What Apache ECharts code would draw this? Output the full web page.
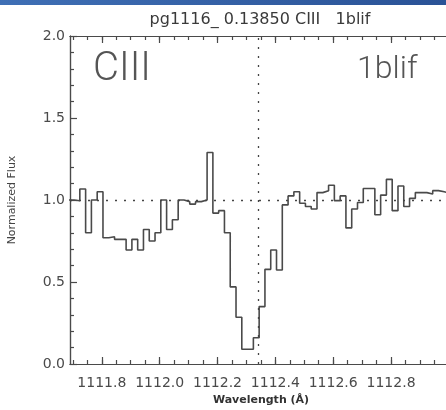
<!DOCTYPE html>
<html>
<head>
<meta charset="utf-8">
<script src="https://cdn.jsdelivr.net/npm/echarts@6/dist/echarts.min.js"></script>
<style>html,body{margin:0;padding:0;background:#fff}#c{width:446px;height:410px}</style>
</head>
<body>
<div id="c"></div>
<script>
// Bin left edges (Å) and normalized flux per bin
const binEdges = [1111.684,1111.704,1111.724,1111.744,1111.764,1111.784,1111.804,1111.824,1111.844,1111.864,
  1111.884,1111.904,1111.924,1111.944,1111.964,1111.984,1112.004,1112.024,1112.044,1112.064,
  1112.084,1112.104,1112.124,1112.144,1112.164,1112.184,1112.204,1112.224,1112.244,1112.264,
  1112.284,1112.304,1112.324,1112.344,1112.364,1112.384,1112.404,1112.424,1112.444,1112.464,
  1112.484,1112.504,1112.524,1112.544,1112.564,1112.584,1112.604,1112.624,1112.644,1112.664,
  1112.684,1112.704,1112.724,1112.744,1112.764,1112.784,1112.804,1112.824,1112.844,1112.864,
  1112.884,1112.904,1112.924,1112.944,1112.964,1112.984,1113.004];
const flux = [1.0,0.995,1.067,0.80,1.0,1.05,0.77,0.776,0.76,0.76,
  0.695,0.76,0.695,0.82,0.75,0.80,1.0,0.82,0.88,1.0,
  0.99,0.975,0.99,1.0,1.29,0.92,0.935,0.80,0.47,0.285,
  0.09,0.09,0.16,0.35,0.577,0.695,0.573,0.97,1.025,1.05,
  0.98,0.96,0.945,1.045,1.057,1.09,0.996,1.025,0.83,0.945,
  0.985,1.07,1.07,0.91,1.03,1.126,0.935,1.085,0.96,1.01,
  1.045,1.045,1.037,1.057,1.05,1.04];
const xMajorTicks = [1111.8,1112.0,1112.2,1112.4,1112.6,1112.8];
const xMinorTicks = [1111.70,1111.75,1111.80,1111.85,1111.90,1111.95,1112.00,1112.05,1112.10,1112.15,
  1112.20,1112.25,1112.30,1112.35,1112.40,1112.45,1112.50,1112.55,1112.60,1112.65,
  1112.70,1112.75,1112.80,1112.85,1112.90,1112.95];
const yMajorTicks = [0.0,0.5,1.0,1.5,2.0];
const yMinorTicks = [0.1,0.2,0.3,0.4,0.6,0.7,0.8,0.9,1.1,1.2,1.3,1.4,1.6,1.7,1.8,1.9];
const continuum = 1.0;
const lineCenter = 1112.34;
const xMin = 1111.69, xMax = 1112.99;
const titleText = 'pg1116_ 0.13850 CIII   1blif';

const stepData = flux.map((v, i) => [binEdges[i], v]);
stepData.push([binEdges[flux.length], flux[flux.length - 1]]);

const axisColor = '#4a4a4a';
function xAx(pos, ticks, len, labels) {
  return {
    type: 'value', position: pos, min: xMin, max: xMax, gridIndex: 0,
    axisLine: { show: true, onZero: false, lineStyle: { color: axisColor, width: 1.2 } },
    axisTick: { show: true, inside: true, length: len, customValues: ticks, lineStyle: { color: axisColor, width: 1.2 } },
    axisLabel: labels ? { show: true, customValues: ticks, margin: 12, fontSize: 14, color: '#4a4a4a',
      fontFamily: 'DejaVu Sans', formatter: v => v.toFixed(1) } : { show: false },
    splitLine: { show: false }
  };
}
function yAx(pos, ticks, len, labels) {
  return {
    type: 'value', position: pos, min: 0, max: 2, gridIndex: 0,
    axisLine: { show: true, onZero: false, lineStyle: { color: axisColor, width: 1.2 } },
    axisTick: { show: true, inside: true, length: len, customValues: ticks, lineStyle: { color: axisColor, width: 1.2 } },
    axisLabel: labels ? { show: true, customValues: ticks, margin: 5, fontSize: 14, color: '#4a4a4a',
      fontFamily: 'DejaVu Sans', formatter: v => v.toFixed(1) } : { show: false },
    splitLine: { show: false }
  };
}

const chart = echarts.init(document.getElementById('c'), null, { renderer: 'canvas' });
chart.setOption({
  animation: false,
  backgroundColor: '#fff',
  grid: { left: 70, right: -9, top: 36, bottom: 46, containLabel: false },
  xAxis: [
    xAx('bottom', xMajorTicks, 7, true),
    xAx('bottom', xMinorTicks, 4, false),
    xAx('top', xMajorTicks, 7, false),
    xAx('top', xMinorTicks, 4, false)
  ],
  yAxis: [
    yAx('left', yMajorTicks, 7, true),
    yAx('left', yMinorTicks, 4, false)
  ],
  series: [{
    type: 'line', xAxisIndex: 0, yAxisIndex: 0,
    data: stepData, step: 'end', showSymbol: false, symbol: 'none',
    lineStyle: { color: '#4a4a4a', width: 1.6 },
    clip: true,
    markLine: {
      silent: true, symbol: 'none', label: { show: false },
      lineStyle: { color: '#444', type: [2, 7], width: 1.3 },
      data: [{ yAxis: continuum }, { xAxis: lineCenter }]
    }
  }],
  graphic: [
    { type: 'rect', shape: { x: 0, y: 0, width: 446, height: 5 },
      style: { fill: new echarts.graphic.LinearGradient(0, 0, 1, 0, [{ offset: 0, color: '#3f6fb5' }, { offset: 1, color: '#2a5296' }]) } },
    { type: 'text', x: 260, y: 20, style: { text: titleText, fontSize: 16, fill: '#3a3a3a', fontFamily: 'DejaVu Sans', align: 'center', verticalAlign: 'middle' } },
    { type: 'text', style: { text: 'CIII', x: 93, y: 50, fontSize: 40, fill: '#555', fontFamily: 'Roboto', fontWeight: 300 } },
    { type: 'text', style: { text: '1blif', x: 357, y: 54, fontSize: 32, fill: '#555', fontFamily: 'Roboto', fontWeight: 300 } },
    { type: 'text', rotation: Math.PI / 2, x: 12, y: 200, style: { text: 'Normalized Flux', fontSize: 11, fill: '#444', fontFamily: 'DejaVu Sans', align: 'center', verticalAlign: 'middle' } },
    { type: 'text', x: 261, y: 400, style: { text: 'Wavelength (Å)', fontSize: 11, fill: '#333', fontFamily: 'DejaVu Sans', fontWeight: 'bold', align: 'center', verticalAlign: 'middle' } }
  ]
});
</script>
</body>
</html>
